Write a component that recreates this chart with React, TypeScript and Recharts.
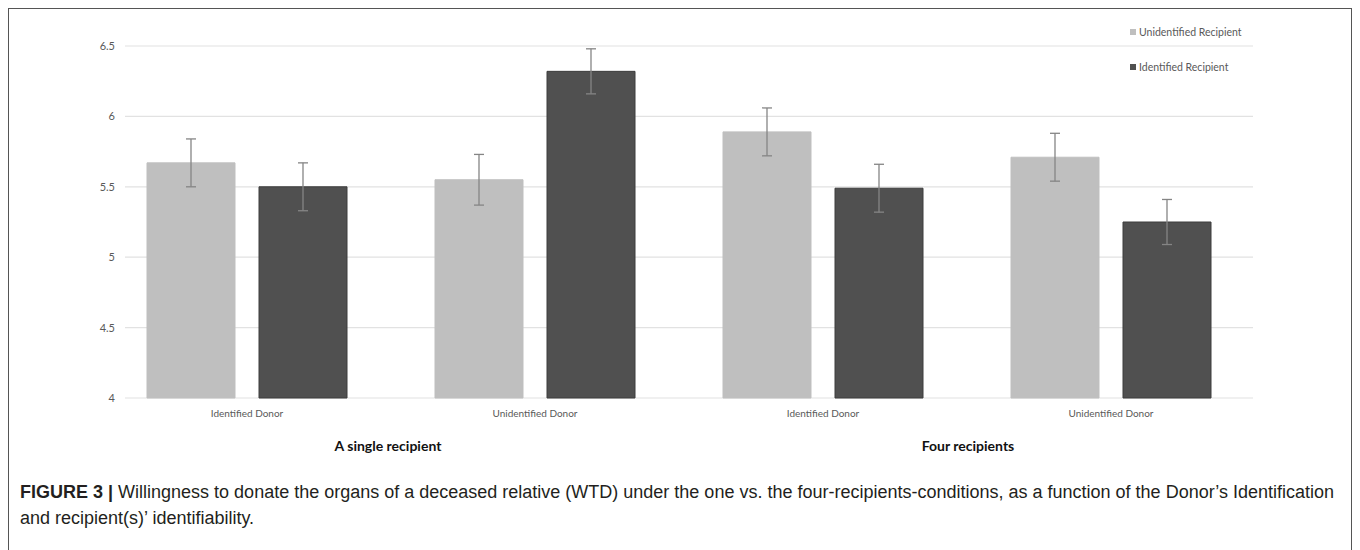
import { Bar, BarChart, CartesianGrid, ErrorBar, XAxis, YAxis } from "recharts";

const categories = [
  "Identified Donor",
  "Unidentified Donor",
  "Identified Donor",
  "Unidentified Donor",
];
const unidentifiedRecipient = [5.67, 5.55, 5.89, 5.71];
const unidentifiedRecipientErr = [0.17, 0.18, 0.17, 0.17];
const identifiedRecipient = [5.5, 6.32, 5.49, 5.25];
const identifiedRecipientErr = [0.17, 0.16, 0.17, 0.16];
const yTicks = [4, 4.5, 5, 5.5, 6, 6.5];
const groupLabels = ["A single recipient", "Four recipients"];

const SERIES = [
  { key: "unidentified", name: "Unidentified Recipient", color: "#bfbfbf", stroke: "#bfbfbf" },
  { key: "identified", name: "Identified Recipient", color: "#505050", stroke: "#3c3c3c" },
];

const data = categories.map((label, i) => ({
  label,
  unidentified: unidentifiedRecipient[i],
  unidentifiedErr: unidentifiedRecipientErr[i],
  identified: identifiedRecipient[i],
  identifiedErr: identifiedRecipientErr[i],
}));

const AXIS_FONT = "Lato, 'Open Sans', sans-serif";

export default function App() {
  return (
    <div
      style={{
        position: "relative",
        width: 1342,
        height: 560,
        border: "1px solid #555",
        background: "#fff",
      }}
    >
      <BarChart
        width={1340}
        height={470}
        data={data}
        margin={{ top: 37, right: 96, left: 0, bottom: 51 }}
        barSize={88}
        barGap={24}
      >
        <CartesianGrid vertical={false} stroke="#e2e2e2" strokeWidth={1.2} />
        <XAxis
          dataKey="label"
          axisLine={false}
          tickLine={false}
          tickMargin={6}
          height={30}
          padding={{ left: -22, right: -2 }}
          tick={{ fontSize: 10, fill: "#595959", fontFamily: AXIS_FONT }}
        />
        <YAxis
          domain={[4, 6.5]}
          ticks={yTicks}
          width={116}
          axisLine={false}
          tickLine={false}
          tickMargin={4}
          tick={{ fontSize: 11, fill: "#595959", fontFamily: AXIS_FONT }}
        />
        {SERIES.map((s) => (
          <Bar
            key={s.key}
            dataKey={s.key}
            name={s.name}
            fill={s.color}
            stroke={s.stroke}
            strokeWidth={1}
            isAnimationActive={false}
          >
            <ErrorBar
              dataKey={`${s.key}Err`}
              width={5}
              stroke="#858585"
              strokeWidth={1.3}
              direction="y"
            />
          </Bar>
        ))}
      </BarChart>

      {/* legend, top right */}
      <div
        style={{
          position: "absolute",
          left: 1121,
          top: 16,
          fontFamily: AXIS_FONT,
          fontSize: 10.5,
          color: "#595959",
        }}
      >
        {SERIES.map((s, i) => (
          <div
            key={s.key}
            style={{
              display: "flex",
              alignItems: "center",
              height: 14,
              marginBottom: i === 0 ? 21 : 0,
            }}
          >
            <span
              style={{
                display: "inline-block",
                width: 6,
                height: 6,
                background: s.color,
                marginRight: 3,
              }}
            />
            {s.name}
          </div>
        ))}
      </div>

      {/* group labels under the categories */}
      {groupLabels.map((g, i) => (
        <div
          key={g}
          style={{
            position: "absolute",
            left: i === 0 ? 279 : 859,
            top: 428,
            width: 200,
            textAlign: "center",
            fontFamily: AXIS_FONT,
            fontWeight: 700,
            fontSize: 14,
            color: "#111",
          }}
        >
          {g}
        </div>
      ))}

      {/* figure caption */}
      <div
        style={{
          position: "absolute",
          left: 11,
          top: 470,
          fontFamily: "'Liberation Sans', Arial, sans-serif",
          fontSize: 18,
          lineHeight: "26px",
          color: "#231f20",
          whiteSpace: "nowrap",
        }}
      >
        <div>
          <b>FIGURE 3 |</b> Willingness to donate the organs of a deceased relative (WTD) under the
          one vs. the four-recipients-conditions, as a function of the Donor’s Identification
        </div>
        <div>and recipient(s)’ identifiability.</div>
      </div>
    </div>
  );
}
